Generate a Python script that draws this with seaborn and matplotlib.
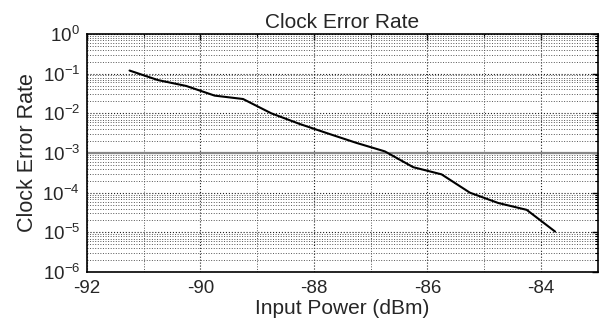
import numpy as np
import pandas as pd
import seaborn as sns
import matplotlib
matplotlib.use("Agg")
import matplotlib.pyplot as plt
from matplotlib.ticker import LogLocator, MultipleLocator, FixedLocator, FuncFormatter, NullFormatter

# Data
power_dbm = [-91.25, -90.75, -90.25, -89.75, -89.25, -88.75, -88.25, -87.75,
             -87.25, -86.75, -86.25, -85.75, -85.25, -84.75, -84.25, -83.75]
error_rate = [0.12, 0.069, 0.049, 0.028, 0.023, 0.010, 0.0054, 0.0031,
              0.0018, 0.0011, 4.4e-4, 2.9e-4, 1.0e-4, 5.5e-5, 3.7e-5, 1.05e-5]
threshold = 1e-3

df = pd.DataFrame({"power": power_dbm, "cer": error_rate})

sns.set_style("white")
plt.rcParams['font.family'] = ['Liberation Sans', 'DejaVu Sans']
plt.rcParams['mathtext.default'] = 'regular'

fig = plt.figure(figsize=(6, 3.27), dpi=100)
ax = fig.add_axes([0.145, 0.168, 0.851, 0.728])

ax.axhline(threshold, color='#888888', lw=1.6, zorder=1)
sns.lineplot(data=df, x="power", y="cer", color='black', lw=1.5, ax=ax, zorder=3)

ax.set_yscale('log')
ax.set_xlim(-92, -83)
ax.set_ylim(1e-6, 1)

ax.xaxis.set_major_locator(FixedLocator([-92, -90, -88, -86, -84]))
ax.xaxis.set_minor_locator(MultipleLocator(1))
ax.xaxis.set_major_formatter(FuncFormatter(lambda v, p: f"{int(v)}"))
ax.yaxis.set_major_locator(LogLocator(base=10, numticks=10))
ax.yaxis.set_minor_locator(LogLocator(base=10, subs=np.arange(2, 10), numticks=20))
ax.yaxis.set_major_formatter(FuncFormatter(lambda v, p: r"$10^{%d}$" % round(np.log10(v))))
ax.yaxis.set_minor_formatter(NullFormatter())

ax.grid(True, which='major', ls=':', color='#222222', lw=0.8)
ax.grid(True, which='minor', ls=':', color='#555555', lw=0.7)

ax.tick_params(which='both', direction='in', top=True, right=True, labelsize=13.5, color='black')
ax.tick_params(which='major', length=4, width=1)
ax.tick_params(which='minor', length=2.5, width=0.8)
ax.tick_params(axis='x', pad=6)
ax.tick_params(axis='y', pad=5)
for s in ax.spines.values():
    s.set_color('black')
    s.set_linewidth(1.2)

ax.set_title("Clock Error Rate", fontsize=15, pad=4)
ax.set_xlabel("Input Power (dBm)", fontsize=15, labelpad=1)
ax.set_ylabel("Clock Error Rate", fontsize=15.5, labelpad=3)

fig.savefig("out.png", dpi=100)
